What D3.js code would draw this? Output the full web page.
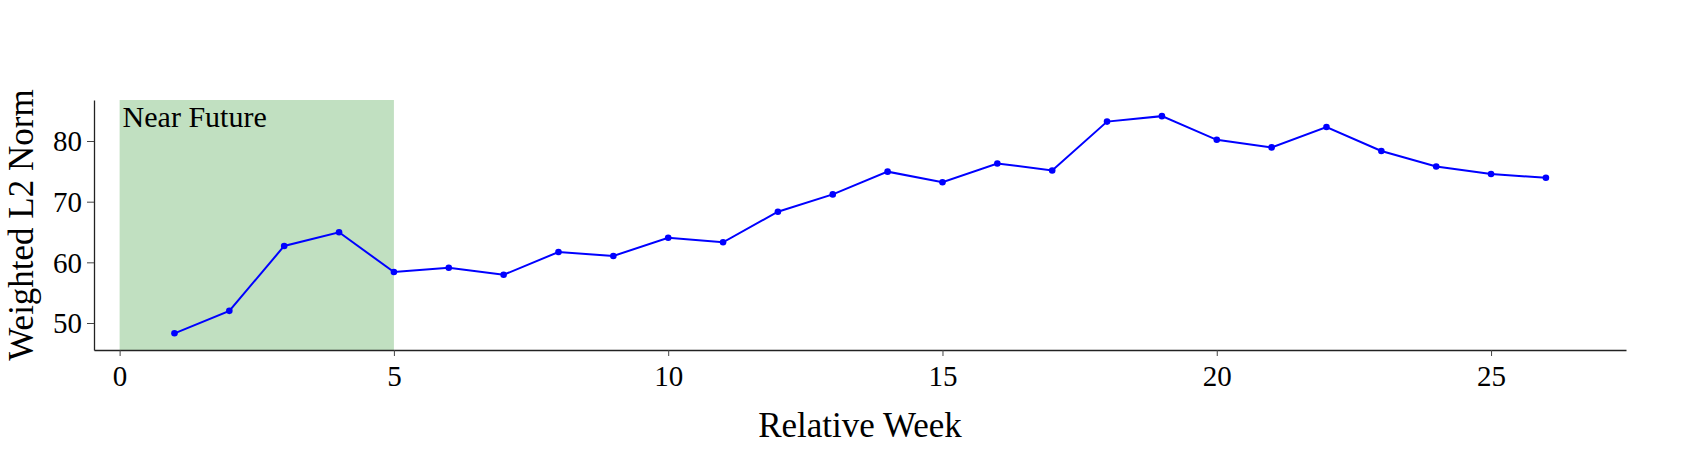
<!DOCTYPE html>
<meta charset="utf-8">
<style>
body { margin: 0; background: #fff; }
text { font-family: "Liberation Serif", "Times New Roman", serif; fill: #000; }
.axis path { stroke: #222; stroke-width: 1.3; }
.axis line { stroke: #444; }
</style>
<div id="chart"></div>
<script src="https://d3js.org/d3.v7.min.js"></script>
<script>

// data
var weeks = [1, 2, 3, 4, 5, 6, 7, 8, 9, 10, 11, 12, 13, 14, 15, 16, 17, 18, 19, 20, 21, 22, 23, 24, 25, 26];
var norms = [48.3, 52.0, 62.7, 64.95, 58.4, 59.1, 57.95, 61.7, 61.05, 64.05, 63.3, 68.35, 71.2, 74.95, 73.2,
             76.3, 75.15, 83.2, 84.1, 80.2, 78.95, 82.3, 78.35, 75.8, 74.55, 73.95];
var xTicks = [0, 5, 10, 15, 20, 25];
var yTicks = [50, 60, 70, 80];
var nearFuture = [0, 5];

var W = 1707, H = 450;
var margin = {top: 100, right: 81, bottom: 100, left: 94},
    width = W - margin.left - margin.right,
    height = H - margin.top - margin.bottom;

var svg = d3.select("#chart").append("svg")
    .attr("width", W)
    .attr("height", H);

var g = svg.append("g")
    .attr("transform", "translate(" + margin.left + "," + margin.top + ")");

var x = d3.scaleLinear().domain([-0.467, 27.46]).range([0, width]);
var y = d3.scaleLinear().domain([45.55, 86.76]).range([height, 0]);

// shaded span
g.append("rect")
    .attr("x", x(nearFuture[0]))
    .attr("y", 0)
    .attr("width", x(nearFuture[1]) - x(nearFuture[0]))
    .attr("height", height)
    .attr("fill", "rgb(193,224,193)");

g.append("text")
    .attr("x", x(nearFuture[0]) + 3)
    .attr("y", 27)
    .style("font-size", "30px")
    .text("Near Future");

// axes
var xAxis = g.append("g")
    .attr("class", "axis")
    .attr("transform", "translate(0," + height + ")")
    .call(d3.axisBottom(x).tickValues(xTicks).tickSize(6).tickPadding(9).tickSizeOuter(0));
xAxis.selectAll("text").style("font-size", "29px").attr("font-family", null);

var yAxis = g.append("g")
    .attr("class", "axis")
    .call(d3.axisLeft(y).tickValues(yTicks).tickSize(7).tickPadding(5).tickSizeOuter(0));
yAxis.selectAll("text").style("font-size", "29px").attr("font-family", null).attr("dy", "0.34em");

// line + markers
var pts = weeks.map(function(w, i) { return [w, norms[i]]; });

g.append("path")
    .datum(pts)
    .attr("fill", "none")
    .attr("stroke", "#0000ff")
    .attr("stroke-width", 2)
    .attr("d", d3.line().x(function(d) { return x(d[0]); }).y(function(d) { return y(d[1]); }));

g.selectAll("circle.pt")
    .data(pts)
    .enter().append("circle")
    .attr("class", "pt")
    .attr("cx", function(d) { return x(d[0]); })
    .attr("cy", function(d) { return y(d[1]); })
    .attr("r", 3.3)
    .attr("fill", "#0000ff");

// axis labels
svg.append("text")
    .attr("x", margin.left + width / 2)
    .attr("y", 437)
    .attr("text-anchor", "middle")
    .style("font-size", "35px")
    .text("Relative Week");

svg.append("text")
    .attr("transform", "translate(33," + (margin.top + height / 2) + ") rotate(-90)")
    .attr("text-anchor", "middle")
    .style("font-size", "35px")
    .text("Weighted L2 Norm");

</script>
